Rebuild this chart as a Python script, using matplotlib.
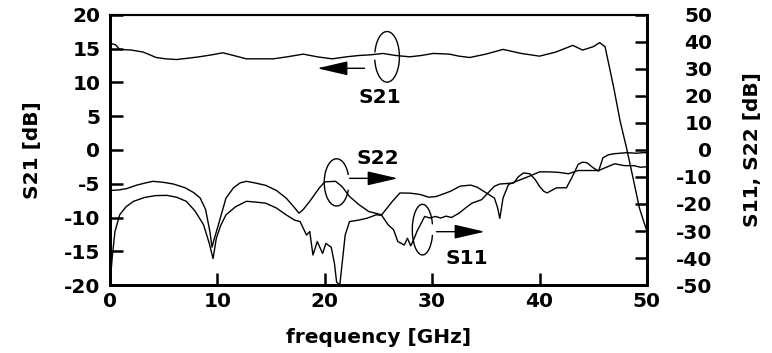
import numpy as np
import matplotlib
matplotlib.use("Agg")
import matplotlib.pyplot as plt
from matplotlib.patches import Arc

plt.rcParams['font.family'] = ['DejaVu Sans']
plt.rcParams['font.weight'] = 'bold'
plt.rcParams['axes.unicode_minus'] = False

# S21, left axis [dB]
f_s21 = [0, 0.5, 0.9, 2.0, 3.1, 4.3, 5.2, 6.2, 7.3, 8.3, 9.5, 10.5, 11.5, 12.7, 14.0,
         15.2, 16.5, 18.0, 19.3, 20.7, 22.0, 23.2, 24.3, 25.4, 26.6, 27.9, 29.0, 30.1,
         31.6, 32.5, 33.5, 35.0, 36.6, 38.3, 40.0, 41.5, 43.1, 44.0, 45.0, 45.6, 46.1,
         46.9, 47.5, 48.1, 48.7, 49.3, 49.7, 50.0]
s21 = [15.8, 15.6, 14.9, 14.8, 14.5, 13.7, 13.5, 13.4, 13.6, 13.8, 14.1, 14.4, 14.0, 13.5, 13.5,
       13.5, 13.8, 14.2, 13.8, 13.5, 13.8, 14.0, 14.1, 14.3, 14.0, 13.8, 14.0, 14.3,
       14.2, 13.9, 13.7, 14.2, 14.9, 14.3, 13.9, 14.5, 15.5, 14.8, 15.3, 15.9, 15.3,
       9.3, 4.3, 0.3, -4.1, -8.6, -10.6, -12.0]

# S22, right axis [dB]
f_s22 = [0, 0.8, 1.55, 2.5, 3.3, 4.0, 5.0, 5.9, 7.0, 7.8, 8.4, 8.9, 9.3, 9.5, 9.7, 10.1,
         10.8, 11.5, 12.1, 12.7, 13.5, 14.5, 15.5, 16.4, 17.0, 17.6, 18.0, 18.6, 19.5,
         20.0, 21.0, 21.6, 22.3, 23.2, 24.1, 25.3, 26.3, 27.0, 28.0, 28.9, 29.7, 30.4,
         31.7, 32.6, 33.6, 34.2, 34.8, 35.8, 36.1, 36.3, 36.6, 37.1, 37.9, 39.0, 40.0,
         40.9, 41.8, 42.7, 43.6, 44.5, 45.5, 46.1, 47.0, 47.9, 48.8, 49.4, 50.0]
s22 = [-15.0, -14.8, -14.3, -13.0, -12.2, -11.6, -12.0, -12.6, -14.0, -15.8, -17.8, -22.0,
       -30.2, -36.0, -33.0, -27.6, -17.8, -14.0, -12.2, -11.6, -12.2, -13.1, -15.0, -17.8,
       -20.5, -23.4, -22.0, -19.0, -14.0, -11.8, -11.6, -13.5, -17.2, -20.3, -22.8, -24.0,
       -19.0, -15.9, -16.0, -16.5, -17.5, -17.2, -15.3, -13.4, -13.0, -13.8, -15.3, -17.8,
       -21.5, -25.3, -17.8, -12.8, -11.5, -9.8, -8.1, -8.1, -8.3, -8.8, -7.6, -7.6, -7.6,
       -6.6, -5.1, -5.8, -5.8, -6.4, -6.2]

# S11, right axis [dB]
f_s11 = [0, 0.2, 0.46, 0.9, 1.5, 2.2, 3.2, 4.2, 5.3, 6.2, 7.1, 7.9, 8.7, 9.2, 9.6, 9.9,
         10.3, 10.8, 11.7, 12.7, 13.6, 14.5, 15.5, 16.4, 17.2, 17.7, 18.3, 18.6, 18.9,
         19.3, 19.8, 20.1, 20.6, 20.9, 21.1, 21.4, 21.6, 21.9, 22.3, 23.1, 23.9, 24.8,
         25.3, 25.9, 26.4, 26.8, 27.4, 27.7, 28.0, 28.3, 28.6, 28.9, 29.3, 29.8, 30.3,
         30.8, 31.3, 31.8, 32.5, 33.1, 33.7, 34.6, 35.2, 35.8, 36.3, 37.0, 37.6, 38.0,
         38.5, 39.1, 39.6, 40.0, 40.4, 40.7, 41.2, 41.6, 42.5, 43.0, 43.6, 44.0, 44.4,
         45.0, 45.5, 45.9, 46.4, 46.9, 48.1, 49.0, 49.6, 50.0]
s11 = [-50.0, -40.0, -30.2, -24.0, -21.0, -19.0, -17.6, -16.9, -16.8, -17.5, -19.0, -22.5,
       -27.6, -34.0, -40.2, -32.7, -28.0, -24.0, -21.0, -19.0, -19.3, -19.7, -21.5, -24.0,
       -26.0, -26.5, -31.5, -30.2, -38.9, -33.9, -38.3, -34.6, -36.0, -42.0, -48.9, -50.0,
       -42.6, -31.5, -26.5, -26.0, -25.3, -24.0, -24.2, -27.7, -29.5, -33.9, -35.2, -32.7,
       -35.5, -33.0, -30.0, -27.7, -24.6, -25.2, -24.6, -25.2, -24.5, -25.0, -23.4, -21.5,
       -19.7, -18.4, -15.9, -13.4, -12.6, -12.4, -12.2, -10.0, -8.5, -8.8, -11.0, -13.5,
       -15.3, -15.9, -14.8, -14.0, -14.0, -10.3, -5.3, -4.5, -4.7, -6.6, -7.8, -2.9, -1.8,
       -1.4, -1.0, -1.2, -1.0, -1.0]

fig = plt.figure(figsize=(7.72, 3.53), dpi=100)
ax = fig.add_axes([0.1425, 0.1926, 0.6955, 0.765])
ax2 = ax.twinx()

ax.plot(f_s21, s21, color='k', lw=1.0)
ax2.plot(f_s22, s22, color='k', lw=1.0)
ax2.plot(f_s11, s11, color='k', lw=1.0)

ax.set_xlim(0, 50)
ax.set_ylim(-20, 20)
ax2.set_ylim(-50, 50)
ax.set_xticks([0, 10, 20, 30, 40, 50])
ax.set_yticks(range(-20, 21, 5))
ax2.set_yticks(range(-50, 51, 10))

fs = 14.5
ax.tick_params(axis='both', direction='in', length=9, width=1.8, labelsize=fs, pad=7)
ax.tick_params(axis='x', pad=5)
ax2.tick_params(axis='y', direction='in', length=9, width=1.8, labelsize=fs, pad=47)
for lab in ax2.get_yticklabels():
    lab.set_horizontalalignment('right')
for lab in ax.get_xticklabels() + ax.get_yticklabels() + ax2.get_yticklabels():
    lab.set_fontweight('bold')

for a in (ax, ax2):
    for side in ('left', 'bottom', 'right'):
        a.spines[side].set_linewidth(2.0)
    a.spines['top'].set_linewidth(1.5)

ax.set_xlabel('frequency [GHz]', fontsize=fs, fontweight='bold', labelpad=12)
ax.set_ylabel('S21 [dB]', fontsize=fs, fontweight='bold', labelpad=16)
ax2.set_ylabel('S11, S22 [dB]', fontsize=fs, fontweight='bold', labelpad=22)

# annotations (drawn on left-axis data coords)
arrow_kw = dict(arrowstyle='-|>,head_length=0.95,head_width=0.22', mutation_scale=20,
                lw=1.0, color='k', shrinkA=0, shrinkB=0)

ax2.add_patch(Arc((25.8, 13.8), 2.3, 7.5, theta1=200, theta2=150, lw=1.0, color='k',
                  transform=ax.transData))
ax2.annotate('', xy=(19.3, 12.1), xytext=(23.7, 12.1), xycoords=ax.transData,
             textcoords=ax.transData, arrowprops=arrow_kw)
ax2.text(25.1, 7.8, 'S21', transform=ax.transData, ha='center', va='center',
         fontsize=fs, fontweight='bold')

ax2.add_patch(Arc((21.1, -4.8), 2.3, 7.0, theta1=45, theta2=315, lw=1.0, color='k',
                  transform=ax.transData))
ax2.annotate('', xy=(26.8, -4.2), xytext=(22.3, -4.2), xycoords=ax.transData,
             textcoords=ax.transData, arrowprops=arrow_kw)
ax2.text(24.9, -1.2, 'S22', transform=ax.transData, ha='center', va='center',
         fontsize=fs, fontweight='bold')

ax2.add_patch(Arc((29.1, -11.8), 1.9, 7.5, theta1=40, theta2=320, lw=1.0, color='k',
                  transform=ax.transData))
ax2.annotate('', xy=(34.9, -12.1), xytext=(30.4, -12.1), xycoords=ax.transData,
             textcoords=ax.transData, arrowprops=arrow_kw)
ax2.text(33.2, -16.1, 'S11', transform=ax.transData, ha='center', va='center',
         fontsize=fs, fontweight='bold')

fig.savefig('out.png', dpi=100)
